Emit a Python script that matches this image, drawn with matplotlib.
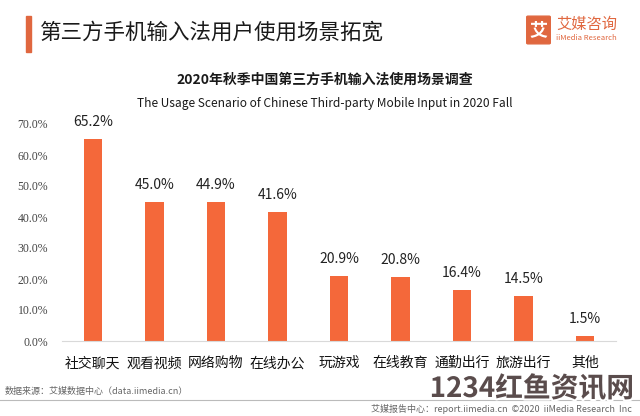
import matplotlib.pyplot as plt
import matplotlib.patheffects as pe
from matplotlib.patches import FancyBboxPatch, Rectangle

plt.rcParams['font.family'] = ['Noto Sans CJK SC', 'DejaVu Sans']

# chart data
categories = ['社交聊天', '观看视频', '网络购物', '在线办公', '玩游戏',
              '在线教育', '通勤出行', '旅游出行', '其他']
values = [65.2, 45.0, 44.9, 41.6, 20.9, 20.8, 16.4, 14.5, 1.5]
yticks = [0, 10, 20, 30, 40, 50, 60, 70]

title = '第三方手机输入法用户使用场景拓宽'
subtitle_cn = '2020年秋季中国第三方手机输入法使用场景调查'
subtitle_en = 'The Usage Scenario of Chinese Third-party Mobile Input in 2020 Fall'
source = '数据来源：艾媒数据中心（data.iimedia.cn）'
footer = '艾媒报告中心：report.iimedia.cn  ©2020  iiMedia Research  Inc'
watermark = '1234红鱼资讯网'

BAR = '#F4683A'
ACCENT = '#E0673F'

W, H = 640, 416
fig = plt.figure(figsize=(6.4, 4.16), dpi=100)
fig.patch.set_facecolor('white')


def fx(px):
    return px / W


def fy(py):
    return 1 - py / H


ax = fig.add_axes([fx(62), fy(341), fx(616) - fx(62), fy(124) - fy(341)])
x = range(len(categories))
ax.bar(x, values, width=0.3, color=BAR, zorder=2)
for i, v in zip(x, values):
    ax.text(i, v + 3.2, f'{v:.1f}%', ha='center', va='bottom',
            fontsize=10, color='#222222', clip_on=False)

ax.set_xlim(-0.5, len(categories) - 0.5)
ax.set_ylim(0, 70)
ax.set_yticks(yticks)
ax.set_yticklabels([f'{t:.1f}%' for t in yticks], family='Liberation Serif',
                   fontsize=8.5, color='#444444')
ax.set_xticks(list(x))
ax.set_xticklabels(categories, fontsize=10, color='#111111')
ax.tick_params(axis='both', length=0)
ax.tick_params(axis='y', pad=10)
ax.tick_params(axis='x', pad=11)
for s in ['top', 'right', 'left']:
    ax.spines[s].set_visible(False)
ax.spines['bottom'].set_color('#d9d9d9')
ax.spines['bottom'].set_linewidth(0.8)

# header
fig.patches.append(Rectangle((fx(26), fy(52)), fx(5), fy(16) - fy(52),
                             transform=fig.transFigure, color=ACCENT))
fig.text(fx(40), fy(33), title, fontsize=15.5, color='#1a1a1a', va='center')

# logo
fig.patches.append(FancyBboxPatch((fx(528), fy(43)), fx(21), fy(17) - fy(43),
                                  boxstyle='round,pad=0.002',
                                  transform=fig.transFigure, color=ACCENT))
fig.text(fx(538.5), fy(30), '艾', fontsize=13, color='white', weight='bold',
         ha='center', va='center')
fig.text(fx(556), fy(24), '艾媒咨询', fontsize=11, color=ACCENT, va='center')
fig.text(fx(556), fy(38), 'iiMedia Research', fontsize=5.5, color=ACCENT,
         va='center')

fig.text(fx(325), fy(80), subtitle_cn, fontsize=10, weight='bold',
         color='#1a1a1a', ha='center', va='center')
fig.text(fx(325), fy(103), subtitle_en, fontsize=8.6, color='#1a1a1a',
         ha='center', va='center')

# footer
fig.text(fx(5), fy(391), source, fontsize=6.5, color='#666666', va='center')
fig.add_artist(plt.Line2D([0, 1], [fy(400), fy(400)], color='#bbbbbb', lw=0.8))
fig.text(fx(632), fy(409), footer, fontsize=6.5, color='#666666',
         ha='right', va='center')

fig.text(fx(634), fy(389), watermark, fontsize=20, weight='bold',
         color='#5a4c4c', ha='right', va='center',
         path_effects=[pe.withStroke(linewidth=3, foreground='white')])

fig.savefig('out.png', dpi=100)
